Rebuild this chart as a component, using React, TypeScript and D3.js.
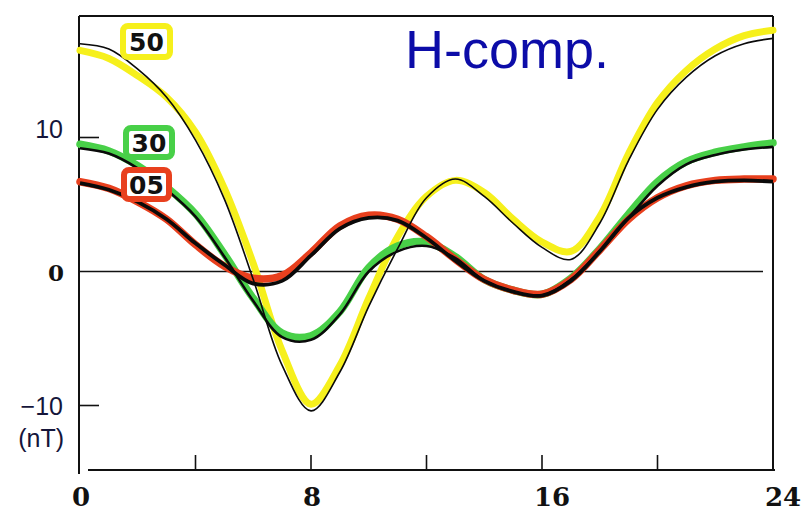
import React from "react";
import * as d3 from "d3";

const hours = [0, 1, 2, 3, 4, 5, 6, 7, 8, 9, 10, 11, 12, 13, 14, 15, 16, 17, 18, 19, 20, 21, 22, 23, 24];
const fit50 = [17.0, 16.6, 15.1, 13.0, 9.8, 5.4, -0.6, -7.0, -10.4, -7.5, -2.6, 1.7, 5.5, 6.9, 5.6, 3.6, 1.8, 0.9, 3.6, 8.3, 12.1, 14.5, 16.1, 17.0, 17.4];
const obs50 = [16.5, 15.9, 14.6, 13.0, 10.4, 6.2, 0.6, -5.9, -9.9, -7.0, -2.0, 2.6, 5.6, 6.8, 5.9, 3.9, 2.2, 1.5, 4.1, 8.8, 12.6, 15.0, 16.6, 17.6, 18.0];
const fit30 = [9.2, 8.8, 7.7, 6.1, 4.1, 1.1, -2.2, -4.9, -5.1, -3.2, 0.0, 1.5, 1.9, 1.0, -0.7, -1.5, -1.8, -0.6, 1.5, 4.0, 6.4, 8.0, 8.7, 9.1, 9.3];
const obs30 = [9.5, 9.0, 7.9, 6.3, 4.3, 1.3, -2.0, -4.6, -4.8, -3.0, 0.3, 1.9, 2.2, 1.1, -0.6, -1.4, -1.7, -0.5, 1.7, 4.3, 6.7, 8.2, 8.9, 9.3, 9.6];
const fit05 = [6.6, 6.1, 5.2, 3.9, 2.1, 0.5, -0.9, -0.7, 1.2, 3.2, 4.0, 3.8, 2.5, 0.8, -0.7, -1.5, -1.8, -0.7, 1.5, 4.0, 5.5, 6.3, 6.7, 6.8, 6.7];
const obs05 = [6.7, 6.2, 5.2, 3.9, 2.0, 0.4, -0.5, -0.3, 1.4, 3.4, 4.2, 3.9, 2.6, 0.9, -0.6, -1.4, -1.7, -0.6, 1.6, 3.9, 5.5, 6.4, 6.8, 6.9, 6.9];

const seriesNames = ["50", "30", "05"];
const seriesColors = ["#f6f01c", "#48d048", "#e8401e"];
const xTickValues = [4, 8, 12, 16, 20];
const xTickLabels = [0, 8, 16, 24];
const yTickValues = [-10, 10];
const title = "H-comp.";
const unitLabel = "(nT)";

const W = 805;
const H = 512;

export default function App() {
  const x = d3.scaleLinear().domain([0, 24]).range([80, 773]);
  const y = d3.scaleLinear().domain([-10, 10]).range([405.5, 137.5]);
  const line = (vals: number[]) =>
    d3
      .line<number>()
      .x((_, i) => x(hours[i]))
      .y((d) => y(d))
      .curve(d3.curveCatmullRom.alpha(0.5))(vals) as string;

  const observed = [obs50, obs30, obs05];
  const fits = [fit50, fit30, fit05];
  const fitWidths = [1.6, 2.6, 3.8];
  const obsWidths = [7, 7.5, 7.5];

  const labelBoxes = [
    { x: 123, y: 26, w: 47, h: 31 },
    { x: 126, y: 128, w: 46, h: 29 },
    { x: 124, y: 170, w: 45, h: 29 },
  ];

  const top = 16;
  const bottom = 470;
  const left = 79;
  const right = 773;

  return (
    <div style={{ position: "absolute", left: 0, top: 0 }}>
      <svg width={W} height={H} style={{ display: "block", background: "#fff" }}>
        {/* frame */}
        <line x1={left} y1={top} x2={left} y2={474} stroke="#111" strokeWidth={2} />
        <line x1={left} y1={top} x2={right} y2={top} stroke="#111" strokeWidth={2} />
        <line x1={right} y1={top} x2={right} y2={bottom} stroke="#111" strokeWidth={2} />
        <line x1={88} y1={bottom} x2={right + 2} y2={bottom} stroke="#111" strokeWidth={2} />
        {/* x ticks */}
        {xTickValues.map((t) => (
          <line key={t} x1={x(t)} x2={x(t)} y1={bottom} y2={bottom - 15} stroke="#111" strokeWidth={1.6} />
        ))}
        {/* y ticks */}
        {yTickValues.map((t) => (
          <line key={t} x1={left} x2={left + 20} y1={y(t)} y2={y(t)} stroke="#111" strokeWidth={1.6} />
        ))}
        {/* zero line */}
        <line x1={left} x2={763} y1={y(0)} y2={y(0)} stroke="#111" strokeWidth={1.4} />

        {/* observed colored bands */}
        {observed.map((vals, i) => (
          <path
            key={"o" + i}
            d={line(vals)}
            fill="none"
            stroke={seriesColors[i]}
            strokeWidth={obsWidths[i]}
            strokeLinecap="round"
            strokeLinejoin="round"
          />
        ))}
        {/* fitted black curves */}
        {fits.map((vals, i) => (
          <path
            key={"f" + i}
            d={line(vals)}
            fill="none"
            stroke="#0a0a0a"
            strokeWidth={fitWidths[i]}
            strokeLinejoin="round"
          />
        ))}

        {/* series labels */}
        {seriesNames.map((n, i) => {
          const b = labelBoxes[i];
          return (
            <g key={n}>
              <rect
                x={b.x}
                y={b.y}
                width={b.w}
                height={b.h}
                rx={5}
                fill="#fff"
                stroke={seriesColors[i]}
                strokeWidth={6}
              />
              <text
                x={b.x + b.w / 2}
                y={b.y + b.h / 2 + 9}
                textAnchor="middle"
                fontFamily="DejaVu Sans, sans-serif"
                fontWeight="bold"
                fontSize={25}
                fill="#111"
              >
                {n}
              </text>
            </g>
          );
        })}

        {/* title */}
        <text x={405} y={68} fontFamily="Liberation Sans, Arial, sans-serif" fontSize={54} fill="#0c0ca8">
          {title}
        </text>

        {/* y labels */}
        <text x={63} y={138} textAnchor="end" fontFamily="Liberation Sans, Arial, sans-serif" fontSize={25} fill="#15153a">
          10
        </text>
        <text x={64} y={281} textAnchor="end" fontFamily="DejaVu Serif, serif" fontWeight="bold" fontSize={23} fill="#111">
          0
        </text>
        <text x={63} y={415} textAnchor="end" fontFamily="Liberation Sans, Arial, sans-serif" fontSize={25} fill="#15153a">
          −10
        </text>
        <text x={64} y={447} textAnchor="end" fontFamily="Liberation Sans, Arial, sans-serif" fontSize={25} fill="#15153a">
          {unitLabel}
        </text>

        {/* x labels */}
        {xTickLabels.map((t) => (
          <text
            key={t}
            x={x(t) - 8}
            y={506}
            textAnchor="start"
            fontFamily="DejaVu Serif, serif"
            fontWeight="bold"
            fontSize={26}
            fill="#111"
          >
            {t}
          </text>
        ))}
      </svg>
    </div>
  );
}
